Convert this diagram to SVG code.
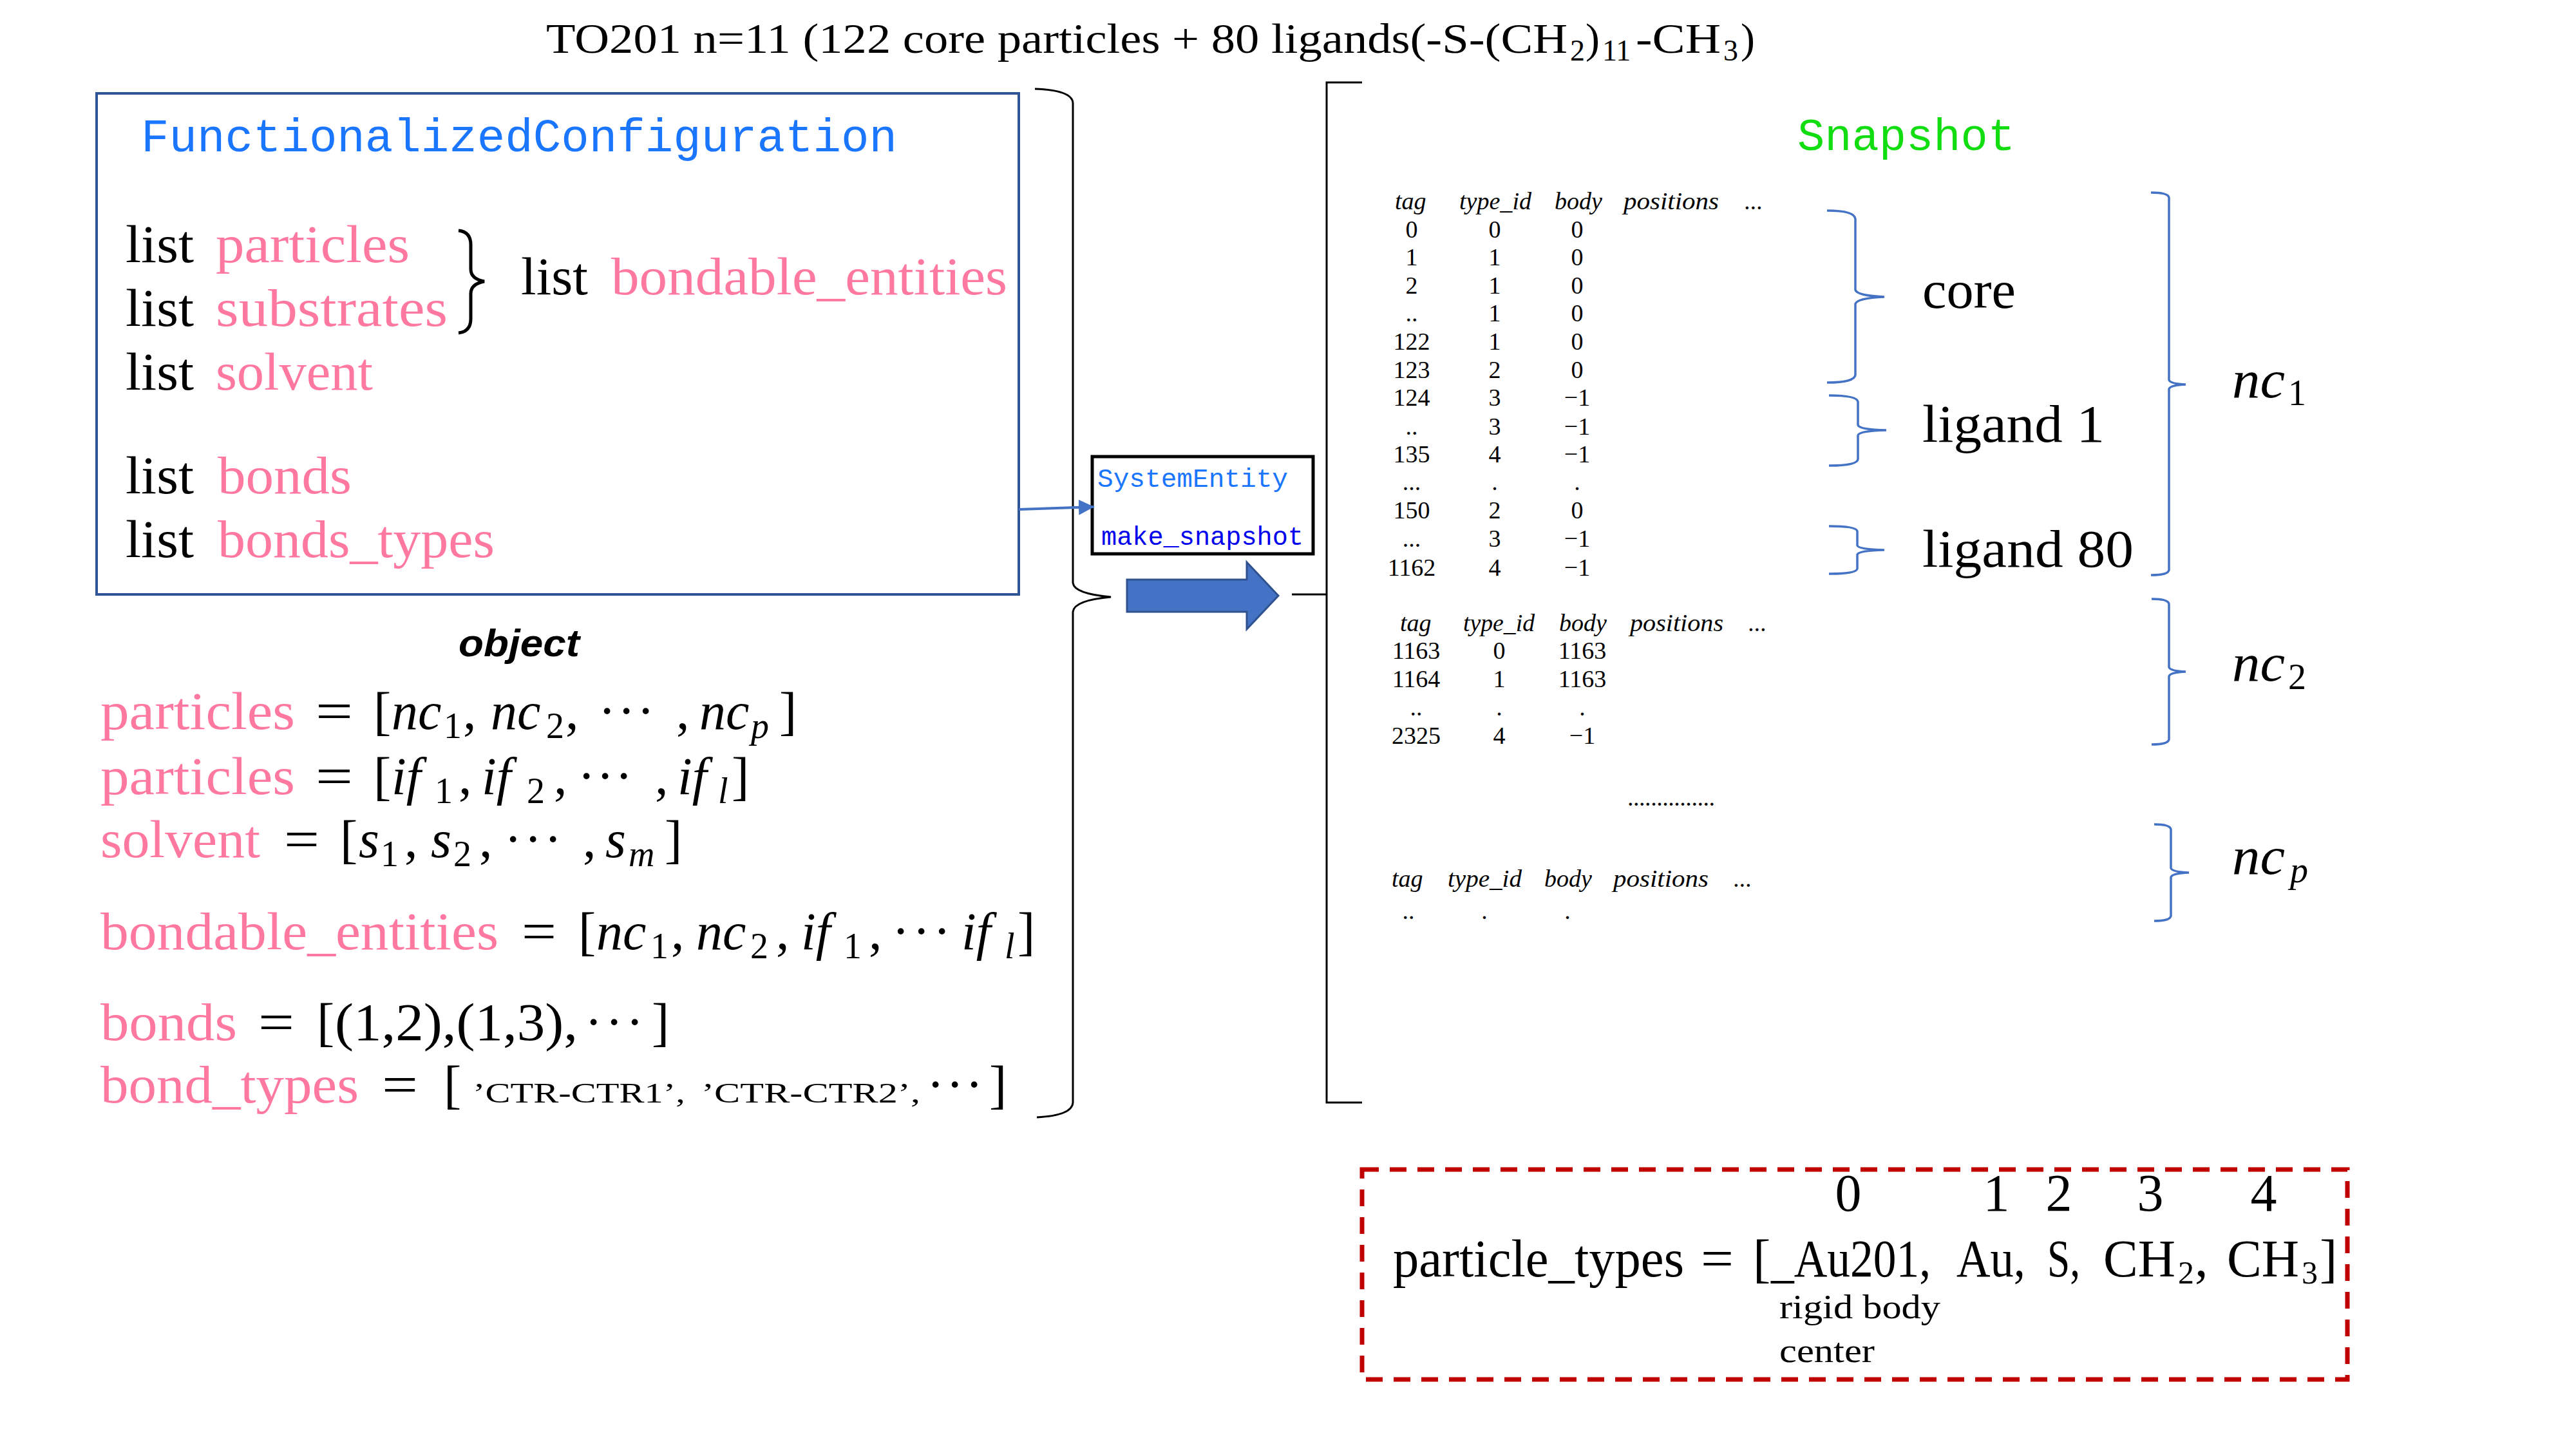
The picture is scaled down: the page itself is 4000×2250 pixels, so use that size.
<svg xmlns="http://www.w3.org/2000/svg" width="4000" height="2250" viewBox="0 0 4000 2250">
<defs>
<style>
.rm{font-family:"Liberation Serif","DejaVu Serif",serif;fill:#000}
.it{font-family:"Liberation Serif","DejaVu Serif",serif;font-style:italic;fill:#000}
.pk{fill:#FF78A0}
.tt{font-family:"Liberation Mono","DejaVu Sans Mono",monospace}
.big{font-size:82px}
.sub{font-size:56px}
.tb{font-size:38px}
.bl{fill:none;stroke:#4472C4;stroke-width:3.5}
.bk{fill:none;stroke:#000;stroke-width:3}
</style>
<marker id="ah" markerWidth="24" markerHeight="24" refX="24" refY="12" orient="auto" markerUnits="userSpaceOnUse" viewBox="0 0 24 24">
<path d="M0,0 L24,12 L0,24 z" fill="#4472C4"/>
</marker>
</defs>
<rect width="4000" height="2250" fill="#fff"/>

<g id="title">
<text class="rm" font-size="66" y="82"><tspan x="848" textLength="1586" lengthAdjust="spacingAndGlyphs">TO201 n=11 (122 core particles + 80 ligands(-S-(CH</tspan><tspan font-size="46" x="2438" dy="12">2</tspan><tspan x="2462" dy="-12">)</tspan><tspan font-size="46" dy="12" x="2488">11</tspan><tspan dy="-12" x="2540" textLength="132" lengthAdjust="spacingAndGlyphs">-CH</tspan><tspan font-size="46" dy="12" x="2676">3</tspan><tspan dy="-12" x="2703">)</tspan></text>
</g>

<g id="functionalized-configuration">
<rect x="150" y="145" width="1432" height="778" fill="#fff" stroke="#2F5597" stroke-width="4"/>
<text class="tt" font-size="72" fill="#1A75FF" x="219" y="235" textLength="1174" lengthAdjust="spacingAndGlyphs">FunctionalizedConfiguration</text>
<text class="rm big" x="195" y="407" textLength="106" lengthAdjust="spacingAndGlyphs">list</text>
<text class="rm big pk" x="335" y="407" textLength="301" lengthAdjust="spacingAndGlyphs">particles</text>
<text class="rm big" x="195" y="506" textLength="106" lengthAdjust="spacingAndGlyphs">list</text>
<text class="rm big pk" x="335" y="506" textLength="360" lengthAdjust="spacingAndGlyphs">substrates</text>
<text class="rm big" x="195" y="605" textLength="106" lengthAdjust="spacingAndGlyphs">list</text>
<text class="rm big pk" x="335" y="605" textLength="244" lengthAdjust="spacingAndGlyphs">solvent</text>
<text class="rm big" x="195" y="766" textLength="106" lengthAdjust="spacingAndGlyphs">list</text>
<text class="rm big pk" x="338" y="766" textLength="208" lengthAdjust="spacingAndGlyphs">bonds</text>
<text class="rm big" x="195" y="865" textLength="106" lengthAdjust="spacingAndGlyphs">list</text>
<text class="rm big pk" x="338" y="865" textLength="430" lengthAdjust="spacingAndGlyphs">bonds_types</text>
<text class="rm big" x="809" y="457" textLength="104" lengthAdjust="spacingAndGlyphs">list</text>
<text class="rm big pk" x="949" y="457" textLength="615" lengthAdjust="spacingAndGlyphs">bondable_entities</text>
<path d="M712,358 Q731,360 731,380 L731,418 Q731,433 752,437 Q731,441 731,456 L731,495 Q731,515 712,517" fill="none" stroke="#000" stroke-width="5"/>
</g>

<g id="object-brace">
<path class="bk" d="M1607,138 Q1665,140 1666,160 L1666,905 Q1668,922 1725,927 Q1668,932 1666,950 L1666,1712 Q1665,1732 1610,1735"/>
</g>

<g id="object-label">
<text x="712" y="1019" font-family="Liberation Sans, Arial, sans-serif" font-weight="bold" font-style="italic" font-size="60" textLength="188" lengthAdjust="spacingAndGlyphs">object</text>
</g>

<g id="object-equations">
<text class="rm big" y="1132"><tspan class="pk" x="156" textLength="302" lengthAdjust="spacingAndGlyphs">particles</tspan><tspan x="490" textLength="58" lengthAdjust="spacingAndGlyphs">=</tspan><tspan x="580">[</tspan><tspan class="it" x="608">nc</tspan><tspan class="sub" x="689" dy="14">1</tspan><tspan x="719" dy="-14">,</tspan><tspan class="it" x="762">nc</tspan><tspan class="sub" x="848" dy="14">2</tspan><tspan x="878" dy="-14">,</tspan><tspan x="929">·</tspan><tspan x="959">·</tspan><tspan x="989">·</tspan><tspan x="1050">,</tspan><tspan class="it" x="1086">nc</tspan><tspan class="it sub" x="1166" dy="14">p</tspan><tspan x="1210" dy="-14">]</tspan></text>

<text class="rm big" y="1233"><tspan class="pk" x="156" textLength="302" lengthAdjust="spacingAndGlyphs">particles</tspan><tspan x="490" textLength="58" lengthAdjust="spacingAndGlyphs">=</tspan><tspan x="580">[</tspan><tspan class="it" x="608">if</tspan><tspan class="sub" x="675" dy="14">1</tspan><tspan x="712" dy="-14">,</tspan><tspan class="it" x="748">if</tspan><tspan class="sub" x="818" dy="14">2</tspan><tspan x="860" dy="-14">,</tspan><tspan x="897">·</tspan><tspan x="926">·</tspan><tspan x="955">·</tspan><tspan x="1017">,</tspan><tspan class="it" x="1052">if</tspan><tspan class="it sub" x="1115" dy="14">l</tspan><tspan x="1136" dy="-14">]</tspan></text>

<text class="rm big" y="1331"><tspan class="pk" x="156" textLength="248" lengthAdjust="spacingAndGlyphs">solvent</tspan><tspan x="441" textLength="55" lengthAdjust="spacingAndGlyphs">=</tspan><tspan x="528">[</tspan><tspan class="it" x="557">s</tspan><tspan class="sub" x="591" dy="14">1</tspan><tspan x="628" dy="-14">,</tspan><tspan class="it" x="669">s</tspan><tspan class="sub" x="704" dy="14">2</tspan><tspan x="744" dy="-14">,</tspan><tspan x="783">·</tspan><tspan x="814">·</tspan><tspan x="845">·</tspan><tspan x="905">,</tspan><tspan class="it" x="940">s</tspan><tspan class="it sub" x="976" dy="14">m</tspan><tspan x="1032" dy="-14">]</tspan></text>

<text class="rm big" y="1474"><tspan class="pk" x="156" textLength="618" lengthAdjust="spacingAndGlyphs">bondable_entities</tspan><tspan x="810" textLength="54" lengthAdjust="spacingAndGlyphs">=</tspan><tspan x="898">[</tspan><tspan class="it" x="926">nc</tspan><tspan class="sub" x="1010" dy="14">1</tspan><tspan x="1042" dy="-14">,</tspan><tspan class="it" x="1081">nc</tspan><tspan class="sub" x="1165" dy="14">2</tspan><tspan x="1205" dy="-14">,</tspan><tspan class="it" x="1244">if</tspan><tspan class="sub" x="1310" dy="14">1</tspan><tspan x="1349" dy="-14">,</tspan><tspan x="1385">·</tspan><tspan x="1417">·</tspan><tspan x="1449">·</tspan><tspan class="it" x="1493">if</tspan><tspan class="it sub" x="1560" dy="14">l</tspan><tspan x="1580" dy="-14">]</tspan></text>

<text class="rm big" y="1615"><tspan class="pk" x="156" textLength="212" lengthAdjust="spacingAndGlyphs">bonds</tspan><tspan x="401" textLength="56" lengthAdjust="spacingAndGlyphs">=</tspan><tspan x="492">[</tspan><tspan x="520" textLength="377" lengthAdjust="spacingAndGlyphs">(1,2),(1,3),</tspan><tspan x="908">·</tspan><tspan x="940">·</tspan><tspan x="972">·</tspan><tspan x="1012">]</tspan></text>

<text class="rm big" y="1712"><tspan class="pk" x="156" textLength="401" lengthAdjust="spacingAndGlyphs">bond_types</tspan><tspan x="593" textLength="56" lengthAdjust="spacingAndGlyphs">=</tspan><tspan x="689">[</tspan><tspan font-size="44" x="734" textLength="330" lengthAdjust="spacingAndGlyphs">’CTR-CTR1’,</tspan><tspan font-size="44" x="1089" textLength="340" lengthAdjust="spacingAndGlyphs">’CTR-CTR2’,</tspan><tspan x="1439">·</tspan><tspan x="1469">·</tspan><tspan x="1499">·</tspan><tspan x="1536">]</tspan></text>
</g>

<g id="system-entity">
<rect x="1696" y="709" width="343" height="151" fill="#fff" stroke="#000" stroke-width="5"/>
<text class="tt" font-size="41" fill="#1A75FF" x="1704" y="756" textLength="296" lengthAdjust="spacingAndGlyphs">SystemEntity</text>
<text class="tt" font-size="41" fill="#0000EE" x="1710" y="846" textLength="314" lengthAdjust="spacingAndGlyphs">make_snapshot</text>
</g>

<g id="block-arrow">
<polygon points="1750,900 1936,900 1936,873 1985,925 1936,977 1936,950 1750,950" fill="#4472C4" stroke="#2F528F" stroke-width="3"/>
</g>

<g id="snapshot-bracket">
<path class="bk" d="M2115,128 L2060,128 L2060,1712 L2115,1712 M2006,923 L2060,923"/>
</g>

<g id="snapshot">
<text class="tt" font-size="70" fill="#11DD11" x="2791" y="233" textLength="338" lengthAdjust="spacingAndGlyphs">Snapshot</text>

<g id="table-1">
<text class="it tb" y="325"><tspan x="2166">tag</tspan><tspan x="2266" textLength="112" lengthAdjust="spacingAndGlyphs">type_id</tspan><tspan x="2414">body</tspan><tspan x="2521" textLength="148" lengthAdjust="spacingAndGlyphs">positions</tspan><tspan x="2709">...</tspan></text>
<g class="rm tb" text-anchor="middle">
<text x="2192" y="369">0</text><text x="2321" y="369">0</text><text x="2449" y="369">0</text>
<text x="2192" y="412">1</text><text x="2321" y="412">1</text><text x="2449" y="412">0</text>
<text x="2192" y="456">2</text><text x="2321" y="456">1</text><text x="2449" y="456">0</text>
<text x="2192" y="499">..</text><text x="2321" y="499">1</text><text x="2449" y="499">0</text>
<text x="2192" y="543">122</text><text x="2321" y="543">1</text><text x="2449" y="543">0</text>
<text x="2192" y="587">123</text><text x="2321" y="587">2</text><text x="2449" y="587">0</text>
<text x="2192" y="630">124</text><text x="2321" y="630">3</text><text x="2449" y="630">−1</text>
<text x="2192" y="675">..</text><text x="2321" y="675">3</text><text x="2449" y="675">−1</text>
<text x="2192" y="718">135</text><text x="2321" y="718">4</text><text x="2449" y="718">−1</text>
<text x="2192" y="761">...</text><text x="2321" y="761">.</text><text x="2449" y="761">.</text>
<text x="2192" y="805">150</text><text x="2321" y="805">2</text><text x="2449" y="805">0</text>
<text x="2192" y="849">...</text><text x="2321" y="849">3</text><text x="2449" y="849">−1</text>
<text x="2192" y="894">1162</text><text x="2321" y="894">4</text><text x="2449" y="894">−1</text>
</g>
</g>

<g id="table-2">
<text class="it tb" y="980"><tspan x="2174">tag</tspan><tspan x="2272" textLength="111" lengthAdjust="spacingAndGlyphs">type_id</tspan><tspan x="2421">body</tspan><tspan x="2531" textLength="145" lengthAdjust="spacingAndGlyphs">positions</tspan><tspan x="2715">...</tspan></text>
<g class="rm tb" text-anchor="middle">
<text x="2199" y="1023">1163</text><text x="2328" y="1023">0</text><text x="2457" y="1023">1163</text>
<text x="2199" y="1067">1164</text><text x="2328" y="1067">1</text><text x="2457" y="1067">1163</text>
<text x="2199" y="1111">..</text><text x="2328" y="1111">.</text><text x="2457" y="1111">.</text>
<text x="2199" y="1155">2325</text><text x="2328" y="1155">4</text><text x="2457" y="1155">−1</text>
</g>
<text class="rm tb" x="2527" y="1251" textLength="136" lengthAdjust="spacing">...............</text>
</g>

<g id="table-p">
<text class="it tb" y="1377"><tspan x="2161">tag</tspan><tspan x="2248" textLength="115" lengthAdjust="spacingAndGlyphs">type_id</tspan><tspan x="2398">body</tspan><tspan x="2505" textLength="148" lengthAdjust="spacingAndGlyphs">positions</tspan><tspan x="2692">...</tspan></text>
<g class="rm tb" text-anchor="middle">
<text x="2187" y="1427">..</text><text x="2305" y="1427">.</text><text x="2434" y="1427">.</text>
</g>
</g>
</g>

<g id="group-braces">
<path class="bl" d="M2837,327 Q2880,327 2881,340 L2881,450 Q2883,459 2926,461 Q2883,463 2881,472 L2881,582 Q2880,594 2837,594"/>
<path class="bl" d="M2840,614 Q2884,614 2885,624 L2885,660 Q2887,667 2929,668 Q2887,669 2885,676 L2885,713 Q2884,723 2840,723"/>
<path class="bl" d="M2840,817 Q2883,817 2884,825 L2884,847 Q2886,853 2926,854 Q2886,855 2884,861 L2884,883 Q2883,891 2840,891"/>
<path class="bl" d="M3340,299 Q3367,299 3368,307 L3368,590 Q3370,596 3394,597 Q3370,598 3368,604 L3368,885 Q3367,893 3340,893"/>
<path class="bl" d="M3341,930 Q3367,930 3368,938 L3368,1036 Q3370,1042 3394,1043 Q3370,1044 3368,1050 L3368,1148 Q3367,1156 3341,1156"/>
<path class="bl" d="M3345,1280 Q3370,1280 3371,1288 L3371,1348 Q3373,1354 3399,1355 Q3373,1356 3371,1362 L3371,1422 Q3370,1430 3345,1430"/>
</g>

<g id="group-labels">
<text class="rm big" x="2985" y="478" textLength="145" lengthAdjust="spacingAndGlyphs">core</text>
<text class="rm big" x="2985" y="686" textLength="283" lengthAdjust="spacingAndGlyphs">ligand 1</text>
<text class="rm big" x="2985" y="880" textLength="328" lengthAdjust="spacingAndGlyphs">ligand 80</text>
<text class="it big" x="3466" y="617" textLength="82" lengthAdjust="spacingAndGlyphs">nc</text>
<text class="rm sub" x="3553" y="629">1</text>
<text class="it big" x="3466" y="1057" textLength="82" lengthAdjust="spacingAndGlyphs">nc</text>
<text class="rm sub" x="3553" y="1070">2</text>
<text class="it big" x="3466" y="1357" textLength="82" lengthAdjust="spacingAndGlyphs">nc</text>
<text class="it sub" x="3556" y="1370">p</text>
</g>

<g id="connectors">
<line x1="1582" y1="791" x2="1699" y2="787" stroke="#4472C4" stroke-width="4" marker-end="url(#ah)"/>
</g>

<g id="particle-types">
<rect x="2115" y="1816" width="1530" height="326" fill="none" stroke="#C00000" stroke-width="7" stroke-dasharray="26 17"/>
<g class="rm big" text-anchor="middle">
<text x="2870" y="1880">0</text><text x="3100" y="1880">1</text><text x="3197" y="1880">2</text><text x="3339" y="1880">3</text><text x="3515" y="1880">4</text>
</g>
<text class="rm big" y="1982"><tspan x="2163" textLength="452" lengthAdjust="spacingAndGlyphs">particle_types</tspan><tspan x="2641" textLength="51" lengthAdjust="spacingAndGlyphs">=</tspan><tspan x="2722">[</tspan><tspan x="2750" textLength="248" lengthAdjust="spacingAndGlyphs">_Au201,</tspan><tspan x="3038" textLength="107" lengthAdjust="spacingAndGlyphs">Au,</tspan><tspan x="3179" textLength="51" lengthAdjust="spacingAndGlyphs">S,</tspan><tspan x="3266" textLength="112" lengthAdjust="spacingAndGlyphs">CH</tspan><tspan x="3382" dy="11" font-size="50">2</tspan><tspan x="3408" dy="-11">,</tspan><tspan x="3458" textLength="112" lengthAdjust="spacingAndGlyphs">CH</tspan><tspan x="3574" dy="11" font-size="50">3</tspan><tspan x="3602" dy="-11">]</tspan></text>
<text class="rm" font-size="52" x="2763" y="2047" textLength="250" lengthAdjust="spacingAndGlyphs">rigid body</text>
<text class="rm" font-size="52" x="2763" y="2115" textLength="148" lengthAdjust="spacingAndGlyphs">center</text>
</g>
</svg>
